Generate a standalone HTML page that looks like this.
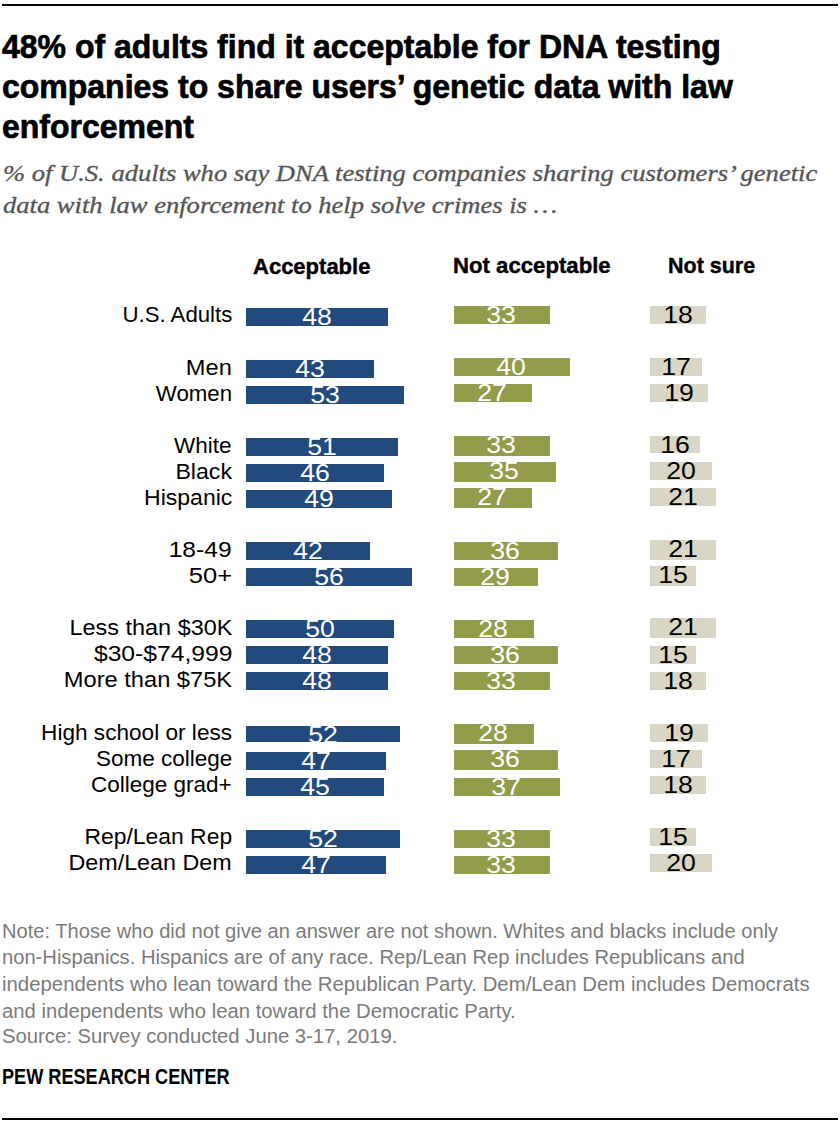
<!DOCTYPE html>
<html><head><meta charset="utf-8"><style>
html,body{margin:0;padding:0;background:#fff;width:840px;height:1122px;overflow:hidden;position:relative}
.t{position:absolute;font-family:"Liberation Sans",sans-serif;white-space:nowrap;color:#000}
.s{position:absolute;font-family:"Liberation Serif",serif;font-style:italic;white-space:nowrap;color:#555;-webkit-text-stroke:0.35px #555}
.lab{right:608px;text-align:right}
</style></head><body>
<div style="position:absolute;left:2px;top:4px;width:836px;height:2px;background:#000"></div>
<div style="position:absolute;left:2px;top:1118px;width:836px;height:2px;background:#000"></div>
<div class="t" style="top:26.22px;left:2px;font-size:34px;line-height:40px;font-weight:700;-webkit-text-stroke:0.7px #000;transform:scaleX(0.941);transform-origin:0 0">48% of adults find it acceptable for DNA testing</div>
<div class="t" style="top:66.22px;left:2px;font-size:34px;line-height:40px;font-weight:700;-webkit-text-stroke:0.7px #000;transform:scaleX(0.941);transform-origin:0 0">companies to share users’ genetic data with law</div>
<div class="t" style="top:106.22px;left:2px;font-size:34px;line-height:40px;font-weight:700;-webkit-text-stroke:0.7px #000;transform:scaleX(0.941);transform-origin:0 0">enforcement</div>
<div class="s" style="top:157.40px;left:3px;font-size:24px;line-height:32px;transform:scaleX(1.106);transform-origin:0 0">% of U.S. adults who say DNA testing companies sharing customers’ genetic</div>
<div class="s" style="top:189.20px;left:3px;font-size:24px;line-height:32px;transform:scaleX(1.106);transform-origin:0 0">data with law enforcement to help solve crimes is …</div>
<div class="t" style="top:252.00px;left:252.5px;font-size:22.5px;line-height:30px;font-weight:700;-webkit-text-stroke:0.4px #000;transform:scaleX(0.978);transform-origin:0 0">Acceptable</div>
<div class="t" style="top:251.20px;left:452.5px;font-size:22.5px;line-height:30px;font-weight:700;-webkit-text-stroke:0.4px #000;transform:scaleX(0.985);transform-origin:0 0">Not acceptable</div>
<div class="t" style="top:250.70px;left:668px;font-size:22.5px;line-height:30px;font-weight:700;-webkit-text-stroke:0.4px #000;transform:scaleX(0.955);transform-origin:0 0">Not sure</div>
<div class="t lab" style="top:302.10px;font-size:22.5px;line-height:26px;transform:scaleX(0.9870);transform-origin:100% 50%">U.S. Adults</div>
<div style="position:absolute;left:246px;top:308px;width:142px;height:17.8px;background:#224a7c"></div>
<div class="t" style="top:304.46px;left:246px;width:142px;text-align:center;font-size:23.5px;line-height:26px;color:#fff;transform:scaleX(1.135)">48</div>
<div style="position:absolute;left:454px;top:306px;width:96px;height:17.8px;background:#939c4a"></div>
<div class="t" style="top:302.46px;left:453px;width:96px;text-align:center;font-size:23.5px;line-height:26px;color:#fff;transform:scaleX(1.135)">33</div>
<div style="position:absolute;left:650px;top:306px;width:56px;height:17.8px;background:#dad6c5"></div>
<div class="t" style="top:302.46px;left:650px;width:56px;text-align:center;font-size:23.5px;line-height:26px;color:#000;transform:scaleX(1.135)">18</div>
<div class="t lab" style="top:355.10px;font-size:22.5px;line-height:26px;transform:scaleX(1.0499);transform-origin:100% 50%">Men</div>
<div style="position:absolute;left:246px;top:360px;width:128px;height:17.8px;background:#224a7c"></div>
<div class="t" style="top:356.46px;left:246px;width:128px;text-align:center;font-size:23.5px;line-height:26px;color:#fff;transform:scaleX(1.135)">43</div>
<div style="position:absolute;left:454px;top:358px;width:116px;height:17.8px;background:#939c4a"></div>
<div class="t" style="top:354.46px;left:453px;width:116px;text-align:center;font-size:23.5px;line-height:26px;color:#fff;transform:scaleX(1.135)">40</div>
<div style="position:absolute;left:650px;top:358px;width:52px;height:17.8px;background:#dad6c5"></div>
<div class="t" style="top:354.46px;left:650px;width:52px;text-align:center;font-size:23.5px;line-height:26px;color:#000;transform:scaleX(1.135)">17</div>
<div class="t lab" style="top:381.10px;font-size:22.5px;line-height:26px;transform:scaleX(0.9897);transform-origin:100% 50%">Women</div>
<div style="position:absolute;left:246px;top:386px;width:158px;height:17.8px;background:#224a7c"></div>
<div class="t" style="top:382.46px;left:246px;width:158px;text-align:center;font-size:23.5px;line-height:26px;color:#fff;transform:scaleX(1.135)">53</div>
<div style="position:absolute;left:454px;top:384px;width:78px;height:17.8px;background:#939c4a"></div>
<div class="t" style="top:380.46px;left:453px;width:78px;text-align:center;font-size:23.5px;line-height:26px;color:#fff;transform:scaleX(1.135)">27</div>
<div style="position:absolute;left:650px;top:384px;width:58px;height:17.8px;background:#dad6c5"></div>
<div class="t" style="top:380.46px;left:650px;width:58px;text-align:center;font-size:23.5px;line-height:26px;color:#000;transform:scaleX(1.135)">19</div>
<div class="t lab" style="top:433.00px;font-size:22.5px;line-height:26px;transform:scaleX(1.0009);transform-origin:100% 50%">White</div>
<div style="position:absolute;left:246px;top:438px;width:152px;height:17.8px;background:#224a7c"></div>
<div class="t" style="top:434.46px;left:246px;width:152px;text-align:center;font-size:23.5px;line-height:26px;color:#fff;transform:scaleX(1.135)">51</div>
<div style="position:absolute;left:454px;top:436px;width:96px;height:19.8px;background:#939c4a"></div>
<div class="t" style="top:432.46px;left:453px;width:96px;text-align:center;font-size:23.5px;line-height:26px;color:#fff;transform:scaleX(1.135)">33</div>
<div style="position:absolute;left:650px;top:436px;width:50px;height:17.4px;background:#dad6c5"></div>
<div class="t" style="top:432.46px;left:650px;width:50px;text-align:center;font-size:23.5px;line-height:26px;color:#000;transform:scaleX(1.135)">16</div>
<div class="t lab" style="top:458.90px;font-size:22.5px;line-height:26px;transform:scaleX(1.0295);transform-origin:100% 50%">Black</div>
<div style="position:absolute;left:246px;top:464px;width:138px;height:17.8px;background:#224a7c"></div>
<div class="t" style="top:460.46px;left:246px;width:138px;text-align:center;font-size:23.5px;line-height:26px;color:#fff;transform:scaleX(1.135)">46</div>
<div style="position:absolute;left:454px;top:462px;width:102px;height:19.8px;background:#939c4a"></div>
<div class="t" style="top:458.46px;left:453px;width:102px;text-align:center;font-size:23.5px;line-height:26px;color:#fff;transform:scaleX(1.135)">35</div>
<div style="position:absolute;left:650px;top:462px;width:62px;height:17.5px;background:#dad6c5"></div>
<div class="t" style="top:458.46px;left:650px;width:62px;text-align:center;font-size:23.5px;line-height:26px;color:#000;transform:scaleX(1.135)">20</div>
<div class="t lab" style="top:484.90px;font-size:22.5px;line-height:26px;transform:scaleX(1.0224);transform-origin:100% 50%">Hispanic</div>
<div style="position:absolute;left:246px;top:490px;width:146px;height:17.8px;background:#224a7c"></div>
<div class="t" style="top:486.46px;left:246px;width:146px;text-align:center;font-size:23.5px;line-height:26px;color:#fff;transform:scaleX(1.135)">49</div>
<div style="position:absolute;left:454px;top:488px;width:78px;height:19.8px;background:#939c4a"></div>
<div class="t" style="top:484.46px;left:453px;width:78px;text-align:center;font-size:23.5px;line-height:26px;color:#fff;transform:scaleX(1.135)">27</div>
<div style="position:absolute;left:650px;top:488px;width:66px;height:17.6px;background:#dad6c5"></div>
<div class="t" style="top:484.46px;left:650px;width:66px;text-align:center;font-size:23.5px;line-height:26px;color:#000;transform:scaleX(1.135)">21</div>
<div class="t lab" style="top:537.10px;font-size:22.5px;line-height:26px;transform:scaleX(1.0919);transform-origin:100% 50%">18-49</div>
<div style="position:absolute;left:246px;top:542px;width:124px;height:17.8px;background:#224a7c"></div>
<div class="t" style="top:538.46px;left:246px;width:124px;text-align:center;font-size:23.5px;line-height:26px;color:#fff;transform:scaleX(1.135)">42</div>
<div style="position:absolute;left:454px;top:542px;width:104px;height:17.8px;background:#939c4a"></div>
<div class="t" style="top:538.46px;left:453px;width:104px;text-align:center;font-size:23.5px;line-height:26px;color:#fff;transform:scaleX(1.135)">36</div>
<div style="position:absolute;left:650px;top:540px;width:66px;height:19.8px;background:#dad6c5"></div>
<div class="t" style="top:536.46px;left:650px;width:66px;text-align:center;font-size:23.5px;line-height:26px;color:#000;transform:scaleX(1.135)">21</div>
<div class="t lab" style="top:563.00px;font-size:22.5px;line-height:26px;transform:scaleX(1.1370);transform-origin:100% 50%">50+</div>
<div style="position:absolute;left:246px;top:568px;width:166px;height:17.8px;background:#224a7c"></div>
<div class="t" style="top:564.46px;left:246px;width:166px;text-align:center;font-size:23.5px;line-height:26px;color:#fff;transform:scaleX(1.135)">56</div>
<div style="position:absolute;left:454px;top:568px;width:84px;height:17.8px;background:#939c4a"></div>
<div class="t" style="top:564.46px;left:453px;width:84px;text-align:center;font-size:23.5px;line-height:26px;color:#fff;transform:scaleX(1.135)">29</div>
<div style="position:absolute;left:650px;top:566px;width:46px;height:19.8px;background:#dad6c5"></div>
<div class="t" style="top:562.46px;left:650px;width:46px;text-align:center;font-size:23.5px;line-height:26px;color:#000;transform:scaleX(1.135)">15</div>
<div class="t lab" style="top:615.00px;font-size:22.5px;line-height:26px;transform:scaleX(1.0417);transform-origin:100% 50%">Less than $30K</div>
<div style="position:absolute;left:246px;top:620px;width:148px;height:17.8px;background:#224a7c"></div>
<div class="t" style="top:616.46px;left:246px;width:148px;text-align:center;font-size:23.5px;line-height:26px;color:#fff;transform:scaleX(1.135)">50</div>
<div style="position:absolute;left:454px;top:620px;width:80px;height:17.8px;background:#939c4a"></div>
<div class="t" style="top:616.46px;left:453px;width:80px;text-align:center;font-size:23.5px;line-height:26px;color:#fff;transform:scaleX(1.135)">28</div>
<div style="position:absolute;left:650px;top:618px;width:66px;height:19.8px;background:#dad6c5"></div>
<div class="t" style="top:614.46px;left:650px;width:66px;text-align:center;font-size:23.5px;line-height:26px;color:#000;transform:scaleX(1.135)">21</div>
<div class="t lab" style="top:640.90px;font-size:22.5px;line-height:26px;transform:scaleX(1.0956);transform-origin:100% 50%">$30-$74,999</div>
<div style="position:absolute;left:246px;top:646px;width:142px;height:17.8px;background:#224a7c"></div>
<div class="t" style="top:642.46px;left:246px;width:142px;text-align:center;font-size:23.5px;line-height:26px;color:#fff;transform:scaleX(1.135)">48</div>
<div style="position:absolute;left:454px;top:646px;width:104px;height:17.8px;background:#939c4a"></div>
<div class="t" style="top:642.46px;left:453px;width:104px;text-align:center;font-size:23.5px;line-height:26px;color:#fff;transform:scaleX(1.135)">36</div>
<div style="position:absolute;left:650px;top:646px;width:46px;height:17.8px;background:#dad6c5"></div>
<div class="t" style="top:642.46px;left:650px;width:46px;text-align:center;font-size:23.5px;line-height:26px;color:#000;transform:scaleX(1.135)">15</div>
<div class="t lab" style="top:667.40px;font-size:22.5px;line-height:26px;transform:scaleX(1.0514);transform-origin:100% 50%">More than $75K</div>
<div style="position:absolute;left:246px;top:672px;width:142px;height:17.8px;background:#224a7c"></div>
<div class="t" style="top:668.46px;left:246px;width:142px;text-align:center;font-size:23.5px;line-height:26px;color:#fff;transform:scaleX(1.135)">48</div>
<div style="position:absolute;left:454px;top:672px;width:96px;height:17.8px;background:#939c4a"></div>
<div class="t" style="top:668.46px;left:453px;width:96px;text-align:center;font-size:23.5px;line-height:26px;color:#fff;transform:scaleX(1.135)">33</div>
<div style="position:absolute;left:650px;top:672px;width:56px;height:17.8px;background:#dad6c5"></div>
<div class="t" style="top:668.46px;left:650px;width:56px;text-align:center;font-size:23.5px;line-height:26px;color:#000;transform:scaleX(1.135)">18</div>
<div class="t lab" style="top:720.10px;font-size:22.5px;line-height:26px;transform:scaleX(1.0050);transform-origin:100% 50%">High school or less</div>
<div style="position:absolute;left:246px;top:726px;width:154px;height:15.8px;background:#224a7c"></div>
<div class="t" style="top:722.46px;left:246px;width:154px;text-align:center;font-size:23.5px;line-height:26px;color:#fff;transform:scaleX(1.135)">52</div>
<div style="position:absolute;left:454px;top:724px;width:80px;height:19.8px;background:#939c4a"></div>
<div class="t" style="top:720.46px;left:453px;width:80px;text-align:center;font-size:23.5px;line-height:26px;color:#fff;transform:scaleX(1.135)">28</div>
<div style="position:absolute;left:650px;top:724px;width:58px;height:17.8px;background:#dad6c5"></div>
<div class="t" style="top:720.46px;left:650px;width:58px;text-align:center;font-size:23.5px;line-height:26px;color:#000;transform:scaleX(1.135)">19</div>
<div class="t lab" style="top:745.80px;font-size:22.5px;line-height:26px;transform:scaleX(1.0009);transform-origin:100% 50%">Some college</div>
<div style="position:absolute;left:246px;top:752px;width:140px;height:17.8px;background:#224a7c"></div>
<div class="t" style="top:748.46px;left:246px;width:140px;text-align:center;font-size:23.5px;line-height:26px;color:#fff;transform:scaleX(1.135)">47</div>
<div style="position:absolute;left:454px;top:750px;width:104px;height:19.8px;background:#939c4a"></div>
<div class="t" style="top:746.46px;left:453px;width:104px;text-align:center;font-size:23.5px;line-height:26px;color:#fff;transform:scaleX(1.135)">36</div>
<div style="position:absolute;left:650px;top:750px;width:52px;height:17.8px;background:#dad6c5"></div>
<div class="t" style="top:746.46px;left:650px;width:52px;text-align:center;font-size:23.5px;line-height:26px;color:#000;transform:scaleX(1.135)">17</div>
<div class="t lab" style="top:771.50px;font-size:22.5px;line-height:26px;transform:scaleX(1.0002);transform-origin:100% 50%">College grad+</div>
<div style="position:absolute;left:246px;top:778px;width:138px;height:17.8px;background:#224a7c"></div>
<div class="t" style="top:774.46px;left:246px;width:138px;text-align:center;font-size:23.5px;line-height:26px;color:#fff;transform:scaleX(1.135)">45</div>
<div style="position:absolute;left:454px;top:778px;width:106px;height:17.8px;background:#939c4a"></div>
<div class="t" style="top:774.46px;left:453px;width:106px;text-align:center;font-size:23.5px;line-height:26px;color:#fff;transform:scaleX(1.135)">37</div>
<div style="position:absolute;left:650px;top:776px;width:56px;height:17.8px;background:#dad6c5"></div>
<div class="t" style="top:772.46px;left:650px;width:56px;text-align:center;font-size:23.5px;line-height:26px;color:#000;transform:scaleX(1.135)">18</div>
<div class="t lab" style="top:824.00px;font-size:22.5px;line-height:26px;transform:scaleX(1.0172);transform-origin:100% 50%">Rep/Lean Rep</div>
<div style="position:absolute;left:246px;top:830px;width:154px;height:17.8px;background:#224a7c"></div>
<div class="t" style="top:826.46px;left:246px;width:154px;text-align:center;font-size:23.5px;line-height:26px;color:#fff;transform:scaleX(1.135)">52</div>
<div style="position:absolute;left:454px;top:830px;width:96px;height:17.8px;background:#939c4a"></div>
<div class="t" style="top:826.46px;left:453px;width:96px;text-align:center;font-size:23.5px;line-height:26px;color:#fff;transform:scaleX(1.135)">33</div>
<div style="position:absolute;left:650px;top:828px;width:46px;height:17.8px;background:#dad6c5"></div>
<div class="t" style="top:824.46px;left:650px;width:46px;text-align:center;font-size:23.5px;line-height:26px;color:#000;transform:scaleX(1.135)">15</div>
<div class="t lab" style="top:849.80px;font-size:22.5px;line-height:26px;transform:scaleX(1.0348);transform-origin:100% 50%">Dem/Lean Dem</div>
<div style="position:absolute;left:246px;top:856px;width:140px;height:17.8px;background:#224a7c"></div>
<div class="t" style="top:852.46px;left:246px;width:140px;text-align:center;font-size:23.5px;line-height:26px;color:#fff;transform:scaleX(1.135)">47</div>
<div style="position:absolute;left:454px;top:856px;width:96px;height:17.8px;background:#939c4a"></div>
<div class="t" style="top:852.46px;left:453px;width:96px;text-align:center;font-size:23.5px;line-height:26px;color:#fff;transform:scaleX(1.135)">33</div>
<div style="position:absolute;left:650px;top:854px;width:62px;height:17.8px;background:#dad6c5"></div>
<div class="t" style="top:850.46px;left:650px;width:62px;text-align:center;font-size:23.5px;line-height:26px;color:#000;transform:scaleX(1.135)">20</div>
<div class="t" style="top:918.07px;left:2px;font-size:20px;line-height:26px;color:#7b7b7b;transform:scaleX(1.005);transform-origin:0 0">Note: Those who did not give an answer are not shown. Whites and blacks include only</div>
<div class="t" style="top:943.77px;left:2px;font-size:20px;line-height:26px;color:#7b7b7b;transform:scaleX(1.0075);transform-origin:0 0">non-Hispanics. Hispanics are of any race. Rep/Lean Rep includes Republicans and</div>
<div class="t" style="top:971.47px;left:2px;font-size:20px;line-height:26px;color:#7b7b7b;transform:scaleX(1.018);transform-origin:0 0">independents who lean toward the Republican Party. Dem/Lean Dem includes Democrats</div>
<div class="t" style="top:997.97px;left:2px;font-size:20px;line-height:26px;color:#7b7b7b;transform:scaleX(1.014);transform-origin:0 0">and independents who lean toward the Democratic Party.</div>
<div class="t" style="top:1023.27px;left:2px;font-size:20px;line-height:26px;color:#7b7b7b;transform:scaleX(1.013);transform-origin:0 0">Source: Survey conducted June 3-17, 2019.</div>
<div class="t" style="top:1064.05px;left:2px;font-size:21.5px;line-height:26px;font-weight:700;transform:scaleX(0.843);transform-origin:0 0">PEW RESEARCH CENTER</div>
</body></html>
